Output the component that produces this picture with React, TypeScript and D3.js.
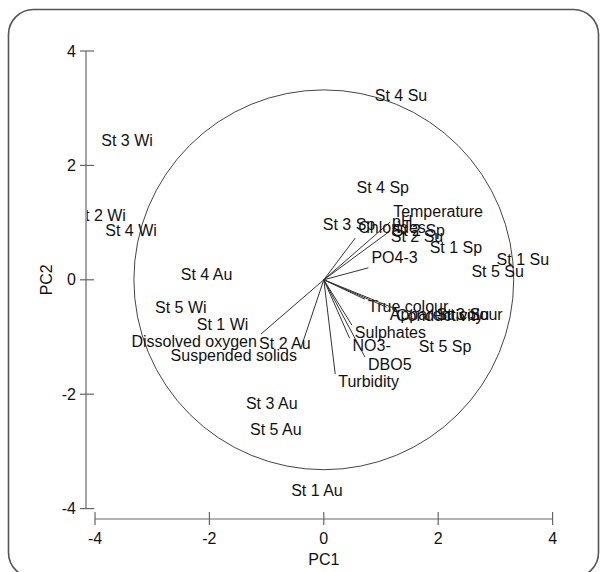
import React from "react";
import * as d3 from "d3";

// sample scores (PC1, PC2)
const sampleNames = [
  "St 1 Wi", "St 2 Wi", "St 3 Wi", "St 4 Wi", "St 5 Wi",
  "St 1 Sp", "St 2 Sp", "St 3 Sp", "St 4 Sp", "St 5 Sp",
  "St 1 Su", "St 2 Su", "St 3 Su", "St 4 Su", "St 5 Su",
  "St 1 Au", "St 2 Au", "St 3 Au", "St 4 Au", "St 5 Au",
];
const samplePC1 = [
  -1.77, -3.91, -3.44, -3.37, -2.5,
  2.31, 1.66, 0.44, 1.03, 2.12,
  3.48, 1.63, 2.43, 1.35, 3.04,
  -0.12, -0.68, -0.91, -2.05, -0.84,
];
const samplePC2 = [
  -0.79, 1.13, 2.44, 0.87, -0.48,
  0.57, 0.87, 0.96, 1.61, -1.17,
  0.36, 0.75, -0.6, 3.23, 0.15,
  -3.69, -1.12, -2.17, 0.1, -2.62,
];

// variable loadings (arrow tips)
const variableNames = [
  "Temperature", "pH", "Chlorides", "PO4-3", "True colour", "Apparent colour",
  "Conductivity", "Sulphates", "NO3-", "DBO5", "Turbidity",
  "Dissolved oxygen", "Suspended solids",
];
const loadingPC1 = [1.16, 1.14, 0.55, 0.78, 0.72, 1.1, 1.21, 0.49, 0.45, 0.72, 0.2, -1.1, -0.4];
const loadingPC2 = [1.01, 0.84, 0.73, 0.21, -0.34, -0.48, -0.49, -0.79, -1.02, -1.35, -1.65, -0.95, -1.19];

const circleRadius = 3.32;
const xTicks = [-4, -2, 0, 2, 4];
const yTicks = [-4, -2, 0, 2, 4];

const font = "Arial, 'Liberation Sans', sans-serif";

const App = () => {
  const width = 605;
  const height = 572;

  const x = d3.scaleLinear().domain([-4, 4]).range([95, 552.6]);
  const y = d3.scaleLinear().domain([-4, 4]).range([508.6, 51]);
  const unit = x(1) - x(0);
  const axisY = 519;
  const axisX = 86;

  return (
    <svg
      width={width}
      height={height}
      style={{ position: "absolute", left: 0, top: 0, background: "#fff" }}
      fontFamily={font}
      fontSize={16}
    >
      <defs>
        <clipPath id="plotClip">
          <rect x={axisX + 1} y={0} width={width} height={height} />
        </clipPath>
      </defs>
      <rect x={8.5} y={9.5} width={590} height={568} rx={25} fill="none" stroke="#555" strokeWidth={1.6} />

      {/* y axis */}
      <line x1={axisX} x2={axisX} y1={y(4)} y2={y(-4)} stroke="#666" strokeWidth={1.2} />
      {yTicks.map((t) => (
        <g key={"y" + t}>
          <line x1={axisX - 6} x2={axisX + 8} y1={y(t)} y2={y(t)} stroke="#666" strokeWidth={1.2} />
          <text x={76} y={y(t)} textAnchor="end" dominantBaseline="central" fill="#111">
            {t}
          </text>
        </g>
      ))}
      <text
        transform={`translate(46, ${y(0)}) rotate(-90)`}
        textAnchor="middle"
        dominantBaseline="central"
        fill="#111"
      >
        PC2
      </text>

      {/* x axis */}
      <line x1={x(-4)} x2={x(4)} y1={axisY} y2={axisY} stroke="#666" strokeWidth={1.2} />
      {xTicks.map((t) => (
        <g key={"x" + t}>
          <line x1={x(t)} x2={x(t)} y1={axisY - 7} y2={axisY + 6} stroke="#666" strokeWidth={1.2} />
          <text x={x(t)} y={axisY + 19} textAnchor="middle" dominantBaseline="central" fill="#111">
            {t}
          </text>
        </g>
      ))}
      <text x={x(0)} y={axisY + 40} textAnchor="middle" dominantBaseline="central" fill="#111">
        PC1
      </text>

      <g clipPath="url(#plotClip)">
        <circle cx={x(0)} cy={y(0)} r={circleRadius * unit} fill="none" stroke="#444" strokeWidth={1} />

        {variableNames.map((name, i) => {
          const ex = x(loadingPC1[i]);
          const ey = y(loadingPC2[i]);
          const right = loadingPC1[i] >= 0;
          const up = loadingPC2[i] >= 0;
          return (
            <g key={name}>
              <line x1={x(0)} y1={y(0)} x2={ex} y2={ey} stroke="#333" strokeWidth={1} />
              <text
                x={right ? ex + 3 : ex - 4}
                y={up ? ey - 5 : ey + 13}
                textAnchor={right ? "start" : "end"}
                fill="#111"
              >
                {name}
              </text>
            </g>
          );
        })}

        {sampleNames.map((name, i) => (
          <text
            key={name}
            x={x(samplePC1[i])}
            y={y(samplePC2[i])}
            textAnchor="middle"
            dominantBaseline="central"
            fill="#111"
          >
            {name}
          </text>
        ))}
      </g>
    </svg>
  );
};

export default App;
